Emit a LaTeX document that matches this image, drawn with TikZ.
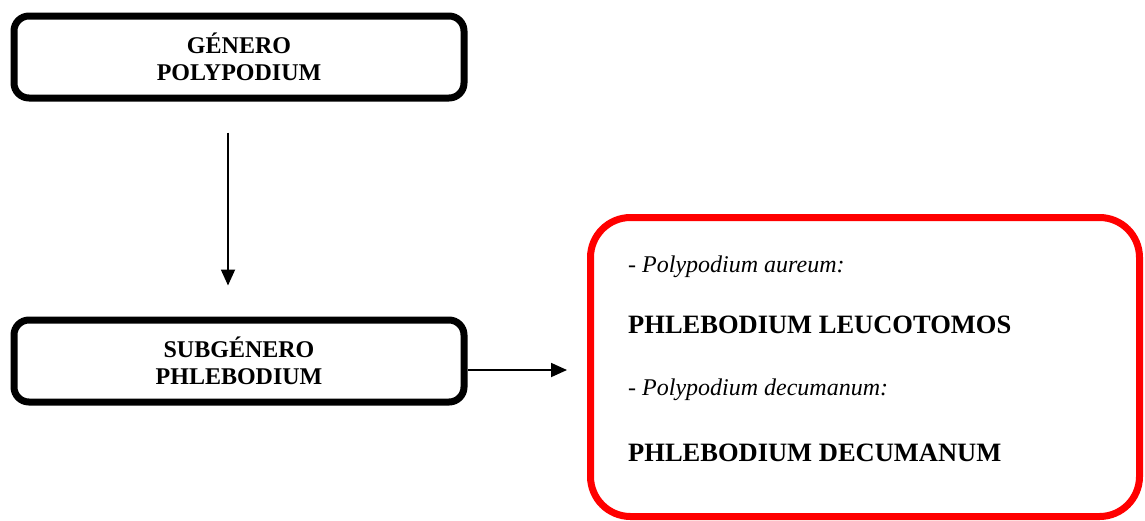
\documentclass[tikz,border=0pt]{standalone}
\usepackage{fontspec}
\setmainfont{Liberation Serif}
\usetikzlibrary{arrows.meta}
\begin{document}
\begin{tikzpicture}
    [x=1pt, y=-1pt,
      taxon/.style={draw, line width=7pt, rounded corners=15pt,
        minimum width=450pt, minimum height=82pt, inner sep=0pt,
        align=center, font=\fontsize{24}{27}\selectfont\bfseries},
      species/.style={draw=red, line width=7pt, rounded corners=40pt,
        minimum width=549pt, minimum height=299pt},
      entry/.style={anchor=base west, inner sep=0pt,
        font=\fontsize{24}{27}\selectfont}, % italic lines
      spname/.style={entry, font=\fontsize{26.5}{30}\selectfont\bfseries},
      arrow/.style={line width=1.8pt, -{Triangle[length=16pt, width=14pt]}}
     ]
    \useasboundingbox (0,0) rectangle (1145,520);
    \node[taxon] (genero) at (239,57) {GÉNERO\\POLYPODIUM};
    \node[taxon] (subgenero) at (239,361) {SUBGÉNERO\\PHLEBODIUM};
    \node[species] (especies) at (865,367) {};
    \node[entry] (aureum) at (628,272) {- \textit{Polypodium aureum:}};
    \node[spname] (leucotomos) at (628,333) {PHLEBODIUM LEUCOTOMOS};
    \node[entry] (decumanum) at (628,395) {- \textit{Polypodium decumanum:}};
    \node[spname] (phdecumanum) at (628,461) {PHLEBODIUM DECUMANUM};
    \draw[arrow, shorten <=31pt, shorten >=31pt]
      ([xshift=-11pt]genero.south) -- ([xshift=-11pt]subgenero.north);
    \draw[arrow, shorten >=20pt]
      ([yshift=-9pt]subgenero.east) -- ([yshift=-9pt]subgenero.east -| especies.west);
\end{tikzpicture}
\end{document}
